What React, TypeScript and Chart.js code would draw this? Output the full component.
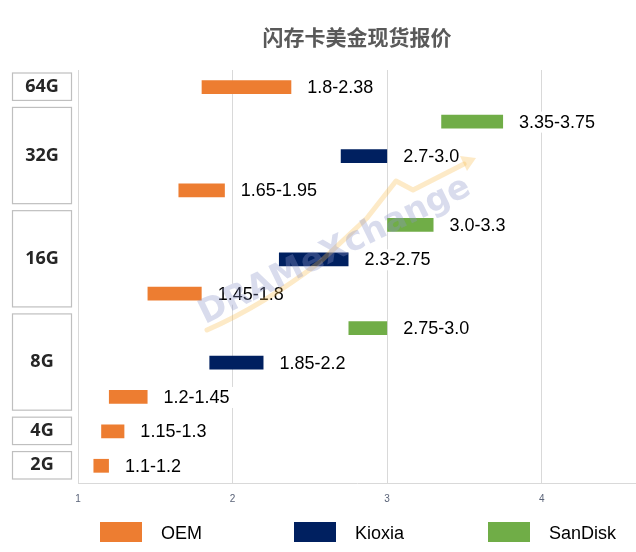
import { useEffect, useRef } from "react";
import { Chart, registerables } from "chart.js";

Chart.register(...registerables);

const chartTitle = "闪存卡美金现货报价";
const capacities = ["64G", "32G", "16G", "8G", "4G", "2G"];
const rowsPerCapacity = [1, 3, 3, 3, 1, 1];
const rowLabels = [
  "64G OEM",
  "32G SanDisk",
  "32G Kioxia",
  "32G OEM",
  "16G SanDisk",
  "16G Kioxia",
  "16G OEM",
  "8G SanDisk",
  "8G Kioxia",
  "8G OEM",
  "4G OEM",
  "2G OEM",
];
const seriesNames = ["OEM", "Kioxia", "SanDisk"];
const seriesColors = ["#ed7d31", "#002060", "#70ad47"];

type Range = [number, number] | null;
const oemPrices: Range[] = [
  [1.8, 2.38], null, null, [1.65, 1.95], null, null, [1.45, 1.8],
  null, null, [1.2, 1.45], [1.15, 1.3], [1.1, 1.2],
];
const kioxiaPrices: Range[] = [
  null, null, [2.7, 3.0], null, null, [2.3, 2.75], null,
  null, [1.85, 2.2], null, null, null,
];
const sandiskPrices: Range[] = [
  null, [3.35, 3.75], null, null, [3.0, 3.3], null, null,
  [2.75, 3.0], null, null, null, null,
];
const xTicks = [1, 2, 3, 4];
const watermark = "DRAMeXchange";

const fmt = (v: number) => (Number.isInteger(v) ? v.toFixed(1) : String(v));
const narrow = "'Liberation Sans Narrow', 'Liberation Sans', sans-serif";

export default function App() {
  const canvasRef = useRef<HTMLCanvasElement>(null);
  const chartRef = useRef<Chart | null>(null);

  useEffect(() => {
    if (!canvasRef.current) return;
    const ctx = canvasRef.current.getContext("2d");
    if (!ctx) return;

    if (chartRef.current) {
      chartRef.current.destroy();
      chartRef.current = null;
    }

    // title, capacity boxes, bar labels, watermark and legend
    const decorations = {
      id: "decorations",
      afterDatasetsDraw(chart: any) {
        const c = chart.ctx as CanvasRenderingContext2D;
        const area = chart.chartArea;
        const y = chart.scales.y;

        // range labels next to the bars
        c.save();
        c.font = `18px ${narrow}`;
        c.textBaseline = "middle";
        chart.data.datasets.forEach((ds: any, di: number) => {
          const meta = chart.getDatasetMeta(di);
          meta.data.forEach((el: any, i: number) => {
            const v = ds.data[i];
            if (!v) return;
            const right = Math.max(el.x, el.base);
            const text = `${fmt(v[0])}-${fmt(v[1])}`;
            const tx = right + 16;
            const w = c.measureText(text).width;
            c.fillStyle = "#ffffff";
            c.fillRect(tx - 3, el.y - 10, w + 14, 21);
            c.fillStyle = "#000000";
            c.fillText(text, tx, el.y + 1);
          });
        });
        c.restore();

        // capacity group boxes on the left
        const rowH = y.getPixelForValue(1) - y.getPixelForValue(0);
        let start = 0;
        c.save();
        capacities.forEach((cap, gi) => {
          const end = start + rowsPerCapacity[gi] - 1;
          const top = y.getPixelForValue(start) - rowH / 2 + 3;
          const bottom = y.getPixelForValue(end) + rowH / 2 - 4;
          c.strokeStyle = "#bfbfbf";
          c.lineWidth = 1.2;
          c.strokeRect(12.5, top, 59, bottom - top);
          c.fillStyle = "#262626";
          c.font = "bold 18px 'Noto Sans', sans-serif";
          c.textAlign = "center";
          c.textBaseline = "middle";
          c.fillText(cap, 42, (top + bottom) / 2);
          start = end + 1;
        });
        c.restore();

        // faint watermark: rising arrow behind the word
        c.save();
        c.strokeStyle = "rgba(248,190,80,0.32)";
        c.lineWidth = 5;
        c.lineJoin = "round";
        c.lineCap = "round";
        c.beginPath();
        c.moveTo(207, 330);
        c.quadraticCurveTo(262, 306, 320, 262);
        c.lineTo(367, 218);
        c.lineTo(396, 181);
        c.lineTo(413, 190);
        c.lineTo(464, 164);
        c.stroke();
        c.fillStyle = "rgba(248,190,80,0.32)";
        c.beginPath();
        c.moveTo(476, 158);
        c.lineTo(460, 156);
        c.lineTo(467, 171);
        c.closePath();
        c.fill();
        c.restore();

        c.save();
        c.translate(335, 251);
        c.rotate((-26 * Math.PI) / 180);
        c.font = "bold 38px 'DejaVu Sans', sans-serif";
        const mw = c.measureText(watermark).width;
        const s = 298 / mw;
        c.scale(s, s);
        c.fillStyle = "rgba(140,150,200,0.33)";
        c.textAlign = "center";
        c.textBaseline = "middle";
        c.fillText(watermark, 0, 0);
        c.restore();

        // title
        c.save();
        c.fillStyle = "#595959";
        c.font = "bold 21px 'Noto Sans CJK SC', sans-serif";
        c.textAlign = "center";
        c.textBaseline = "middle";
        c.fillText(chartTitle, (area.left + area.right) / 2, 37);
        c.restore();

        // legend
        c.save();
        c.font = `18px ${narrow}`;
        c.textBaseline = "alphabetic";
        seriesNames.forEach((name, i) => {
          const x = 100 + i * 194;
          c.fillStyle = seriesColors[i];
          c.fillRect(x, 522, 42, 20);
          c.fillStyle = "#000000";
          c.fillText(name, x + 61, 539);
        });
        c.restore();
      },
    };

    chartRef.current = new Chart(ctx, {
      type: "bar",
      data: {
        labels: rowLabels,
        datasets: [
          { label: seriesNames[0], data: oemPrices as any, backgroundColor: seriesColors[0] },
          { label: seriesNames[1], data: kioxiaPrices as any, backgroundColor: seriesColors[1] },
          { label: seriesNames[2], data: sandiskPrices as any, backgroundColor: seriesColors[2] },
        ],
      },
      options: {
        indexAxis: "y",
        animation: false,
        responsive: true,
        maintainAspectRatio: false,
        layout: { padding: { top: 70, left: 78, right: 0, bottom: 0 } },
        datasets: {
          bar: {
            grouped: false,
            barPercentage: 0.4,
            categoryPercentage: 1,
            borderWidth: 0,
          },
        },
        plugins: {
          legend: { display: false },
          tooltip: { enabled: false },
          title: { display: false },
        },
        scales: {
          x: {
            type: "linear",
            min: 1,
            max: 4.61,
            grid: { color: "#d9d9d9", drawTicks: false },
            border: { display: true, color: "#d9d9d9" },
            ticks: {
              color: "#5a6378",
              font: { size: 10, family: "'Liberation Sans', sans-serif" },
              padding: 10,
            },
            afterBuildTicks: (s: any) => {
              s.ticks = xTicks.map((value) => ({ value }));
            },
            afterFit: (s: any) => {
              s.height = 69;
            },
          },
          y: {
            type: "category",
            display: false,
          },
        },
      },
      plugins: [decorations],
    });

    return () => {
      chartRef.current?.destroy();
      chartRef.current = null;
    };
  }, []);

  return (
    <div style={{ position: "absolute", left: 0, top: 0, width: "636px", height: "552px", background: "#fff" }}>
      <canvas ref={canvasRef} />
    </div>
  );
}
